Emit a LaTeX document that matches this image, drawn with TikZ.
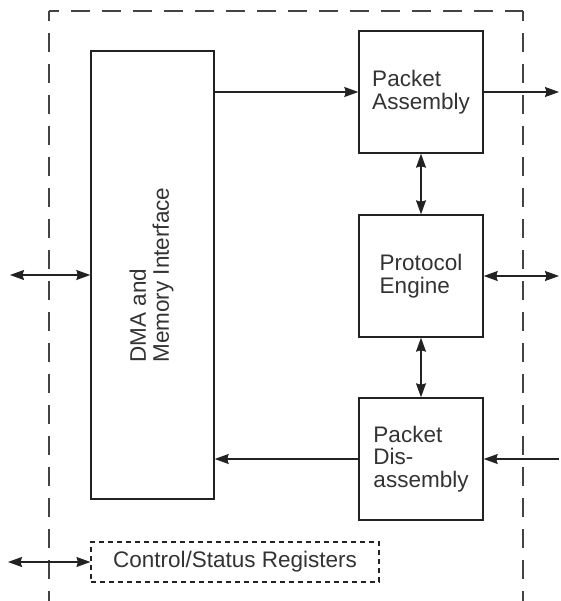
\documentclass[tikz,border=0pt]{standalone}
\usepackage{fontspec}
\setmainfont{Liberation Sans}
\usetikzlibrary{arrows.meta}
\definecolor{ink}{HTML}{222222}
\definecolor{txt}{HTML}{333333}
\begin{document}
\begin{tikzpicture}[x=1pt,y=-1pt,
  block/.style={draw=ink, line width=1.4pt, rectangle, inner sep=0pt,
    minimum width=124pt, minimum height=122pt, align=left,
    text=txt, font=\fontsize{22.5}{22.5}\selectfont},
  regbox/.style={draw=ink, line width=1.1pt, dash pattern=on 5pt off 4pt,
    inner sep=0pt, minimum width=288pt, minimum height=40pt,
    text=txt, font=\fontsize{22.5}{22.5}\selectfont},
  border/.style={draw=ink!85, line width=1.4pt, dash pattern=on 19pt off 12pt, dash phase=9pt},
  tip/.tip={Stealth[length=14pt,width=10pt,inset=1.5pt]},
  arr/.style={draw=ink, line width=1.2pt, -tip},
  barr/.style={draw=ink, line width=1.2pt, tip-tip}
]
\useasboundingbox (0,0) rectangle (560,601);

% chip outline, open at the bottom
\coordinate (bl) at (49,601);
\coordinate (tl) at (49,11);
\coordinate (tr) at (523,11);
\coordinate (br) at (523,601);
\draw[border] (tl) -- (bl);
\draw[border] (tl) -- (tr);
\draw[border] (tr) -- (br);

% functional blocks
\node[block, minimum width=123pt, minimum height=448pt] (dma) at (152.5,275)
  {\rotatebox{90}{\parbox{7cm}{\centering\begin{tabular}{@{}l@{}}DMA and\\Memory Interface\end{tabular}}}};
\node[block] (pa) at (421,92) {Packet\\Assembly};
\node[block] (pe) at (421,276) {Protocol\\Engine};
\node[block] (pd) at (421,459) {Packet\\Dis-\\assembly};
\node[regbox] (csr) at (235,562) {Control/Status Registers};

% external ends of connectors
\coordinate (hostL) at (10,275);
\coordinate (regL) at (8,562);
\coordinate (txR) at (559,92);
\coordinate (peR) at (559,276);
\coordinate (rxR) at (559,459);

% connectors
\draw[arr] (dma.east |- pa.west) -- (pa.west);
\draw[arr] (pa.east) -- (txR);
\draw[barr] (pe.east) -- (peR);
\draw[arr] (rxR) -- (pd.east);
\draw[arr] (pd.west) -- (dma.east |- pd.west);
\draw[barr] (pa.south) -- (pe.north);
\draw[barr] (pe.south) -- (pd.north);
\draw[barr] (hostL) -- (dma.west);
\draw[barr] (regL) -- (csr.west);
\end{tikzpicture}
\end{document}
